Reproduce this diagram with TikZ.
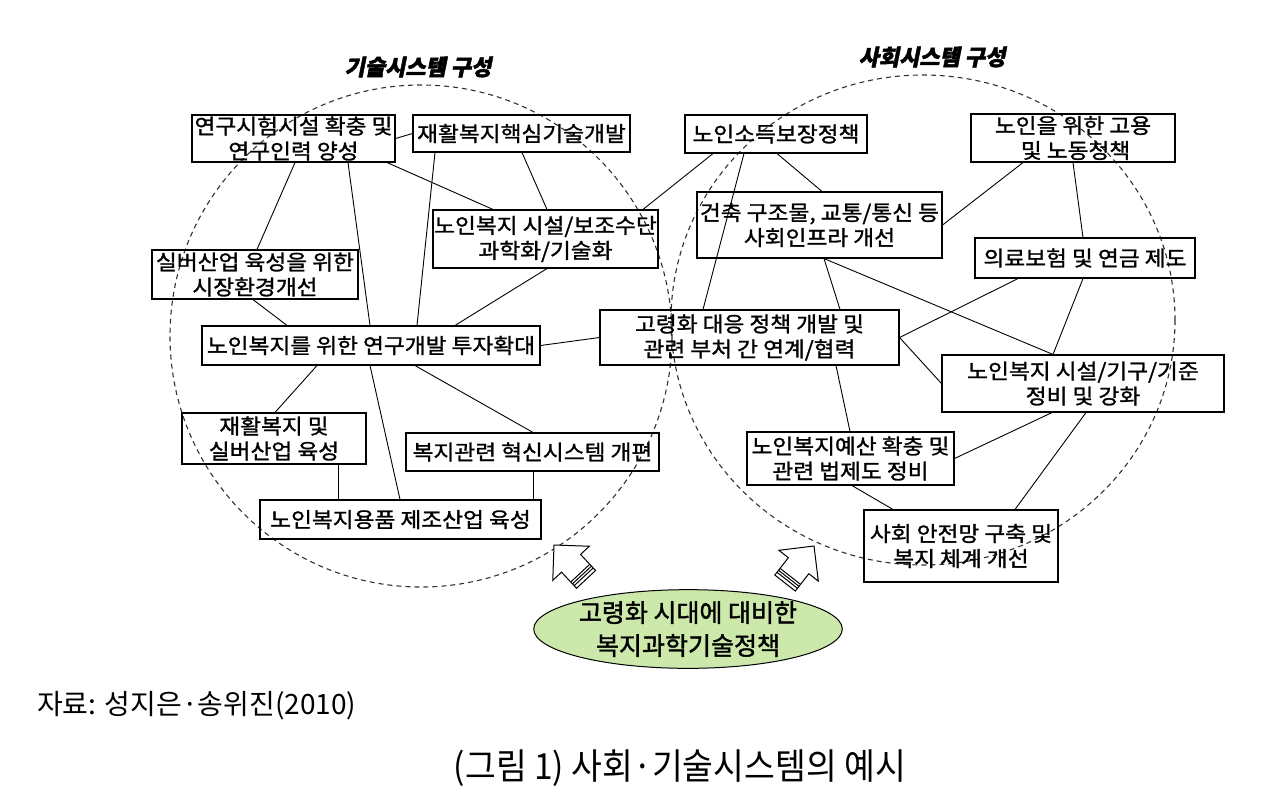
\documentclass[tikz,border=0pt]{standalone}
\usepackage{fontspec}
\setmainfont{Noto Sans CJK KR}
\newfontfamily\krbox[FakeBold=1.3, FakeStretch=1.08]{Noto Sans CJK KR}
\newfontfamily\krtitle[FakeSlant=0.2, FakeBold=2]{Noto Sans CJK KR}
\newfontfamily\krgoal[FakeBold=1.6]{Noto Sans CJK KR}
\newfontfamily\krcap[FakeStretch=0.93]{Noto Sans CJK KR}
\newfontfamily\krsrc[FakeStretch=1.0]{Noto Sans CJK KR}
\usetikzlibrary{shapes.geometric}
\definecolor{goalgreen}{RGB}{204,232,170}
\definecolor{dashgray}{RGB}{50,50,50}
\begin{document}
\begin{tikzpicture}[x=1pt,y=-1pt,
  box/.style={draw, line width=1.1pt, inner sep=0pt, align=center,
    font=\krbox\fontsize{21pt}{25pt}\selectfont},
  conn/.style={line width=0.9pt},
  dashcirc/.style={draw=dashgray, line width=1.1pt, dash pattern=on 5pt off 4pt},
  titletext/.style={font=\krtitle\bfseries\fontsize{22pt}{22pt}\selectfont},
  hollow/.style={draw, line width=1pt, fill=white, line join=miter}]
\fill[white] (0,0) rectangle (1280,804);
\path[use as bounding box] (0,0) rectangle (1280,804);

% dashed system circles
\draw[dashcirc] (421,336) circle[radius=251];
\draw[dashcirc] (923,320) ellipse[x radius=252, y radius=245];

% titles
\node[titletext] (t1) at (418,67) {기술시스템 구성};
\node[titletext] (t2) at (932,57) {사회시스템 구성};

% technology system boxes
\node[box, minimum width=203pt, minimum height=47pt] (b1) at (293.5,138.5) {연구시험시설 확충 및\\연구인력 양성};
\node[box, minimum width=217pt, minimum height=37pt] (b2) at (521.5,133.5) {재활복지핵심기술개발};
\node[box, minimum width=225pt, minimum height=58pt] (b3) at (545.5,239) {노인복지 시설/보조수단\\과학화/기술화};
\node[box, minimum width=206pt, minimum height=49pt] (b4) at (255,274.5) {실버산업 육성을 위한\\시장환경개선};
\node[box, minimum width=338pt, minimum height=39pt] (b5) at (371,345.5) {노인복지를 위한 연구개발 투자확대};
\node[box, minimum width=184pt, minimum height=51pt] (b6) at (274,438.5) {재활복지 및\\실버산업 육성};
\node[box, minimum width=253pt, minimum height=38pt] (b7) at (532.5,452) {복지관련 혁신시스템 개편};
\node[box, minimum width=281pt, minimum height=39pt] (b8) at (400.5,519.5) {노인복지용품 제조산업 육성};

% social system boxes
\node[box, minimum width=182pt, minimum height=38pt] (b9) at (776,134) {노인소득보장정책};
\node[box, minimum width=204pt, minimum height=48pt] (b10) at (1073,138) {노인을 위한 고용\\\ 및 노동청책};
\node[box, minimum width=245pt, minimum height=66pt] (b11) at (819.5,225) {건축 구조물, 교통/통신 등\\사회인프라 개선};
\node[box, minimum width=220pt, minimum height=40pt] (b12) at (1085,258) {의료보험 및 연금 제도};
\node[box, minimum width=299pt, minimum height=55pt] (b13) at (749.5,337.5) {고령화 대응 정책 개발 및\\관련 부처 간 연계/협력};
\node[box, minimum width=282pt, minimum height=57pt] (b14) at (1083,383.5) {노인복지 시설/기구/기준\\정비 및 강화};
\node[box, minimum width=207pt, minimum height=53pt] (b15) at (850.5,458.5) {노인복지예산 확충 및\\관련 법제도 정비};
\node[box, minimum width=194pt, minimum height=72pt] (b16) at (961,546) {사회 안전망 구축 및\\복지 체계 개선};

% connectors: technology system
\draw[conn] (b1.east) -- (b2.west);
\draw[conn] ([xshift=1.5pt]b1.south) -- ([xshift=2pt]b4.north);
\draw[conn] ([xshift=54.5pt]b1.south) -- ([xshift=-1pt]b5.north);
\draw[conn] ([xshift=93.5pt]b1.south) -- ([xshift=-52.5pt]b3.north);
\draw[conn] ([xshift=-86.5pt]b2.south) -- ([xshift=46pt]b5.north);
\draw[conn] ([xshift=0.5pt]b2.south) -- ([xshift=1.5pt]b3.north);
\draw[conn] ([xshift=1.5pt]b3.south) -- ([xshift=84pt]b5.north);
\draw[conn] ([xshift=-2pt]b4.south) -- ([xshift=-84pt]b5.north);
\draw[conn] (b5.east) -- (b13.west);
\draw[conn] ([xshift=-54pt]b5.south) -- ([xshift=1pt]b6.north);
\draw[conn] ([xshift=-1pt]b5.south) -- ([xshift=-0.5pt]b8.north);
\draw[conn] ([xshift=44pt]b5.south) -- ([xshift=0.5pt]b7.north);
\draw[conn] ([xshift=64pt]b6.south) -- ([xshift=-62.5pt]b8.north);
\draw[conn] ([xshift=0.5pt]b7.south) -- ([xshift=132.5pt]b8.north);

% connectors: social system
\draw[conn] ([xshift=-63pt]b9.south) -- ([xshift=97.5pt]b3.north);
\draw[conn] ([xshift=-32pt]b9.south) -- ([xshift=-46.5pt]b13.north);
\draw[conn] ([xshift=1pt]b9.south) -- ([xshift=2.5pt]b11.north);
\draw[conn] ([xshift=-50pt]b10.south) -- (b11.east);
\draw[conn] (b10.south) -- ([xshift=-2pt]b12.north);
\draw[conn] ([xshift=4.5pt]b11.south) -- ([xshift=90.5pt]b13.north);
\draw[conn] ([xshift=4.5pt]b11.south) -- ([xshift=-30pt]b14.north);
\draw[conn] ([xshift=-67pt]b12.south) -- (b13.east);
\draw[conn] ([xshift=-2pt]b12.south) -- ([xshift=-30pt]b14.north);
\draw[conn] (b13.east) -- (b14.west);
\draw[conn] ([xshift=86.5pt]b13.south) -- ([xshift=-0.5pt]b15.north);
\draw[conn] ([xshift=-31pt]b14.south) -- (b15.east);
\draw[conn] ([xshift=3pt]b14.south) -- ([xshift=54pt]b16.north);
\draw[conn] ([xshift=1.5pt]b15.south) -- ([xshift=-68pt]b16.north);

% hollow block arrows
\begin{scope}[shift={(554,545)}, rotate=-47]
  \draw[hollow] (0,0) -- (25,25) -- (25,13) -- (47,13) -- (47,-13) -- (25,-13) -- (25,-25) -- cycle;
  \foreach \u in {38.5,41,43.5} \draw[line width=1pt] (\u,13) -- (\u,-13);
\end{scope}
\begin{scope}[shift={(814,546)}, rotate=-128]
  \draw[hollow] (0,0) -- (25,25) -- (25,13) -- (47,13) -- (47,-13) -- (25,-13) -- (25,-25) -- cycle;
  \foreach \u in {38.5,41,43.5} \draw[line width=1pt] (\u,13) -- (\u,-13);
\end{scope}

% goal ellipse
\node[ellipse, draw, line width=1pt, fill=goalgreen, minimum width=294pt, minimum height=78pt,
  inner sep=0pt, align=center, font=\krgoal\fontsize{25pt}{33pt}\selectfont] (goal) at (688,629)
  {고령화 시대에 대비한\\복지과학기술정책};

% source and caption
\node[anchor=west, inner sep=0pt, font=\krsrc\fontsize{28pt}{28pt}\selectfont] (src) at (37,706) {자료: 성지은·송위진(2010)};
\node[inner sep=0pt, font=\krcap\fontsize{36pt}{36pt}\selectfont] (cap) at (680,768) {(그림 1) 사회·기술시스템의 예시};
\end{tikzpicture}
\end{document}
